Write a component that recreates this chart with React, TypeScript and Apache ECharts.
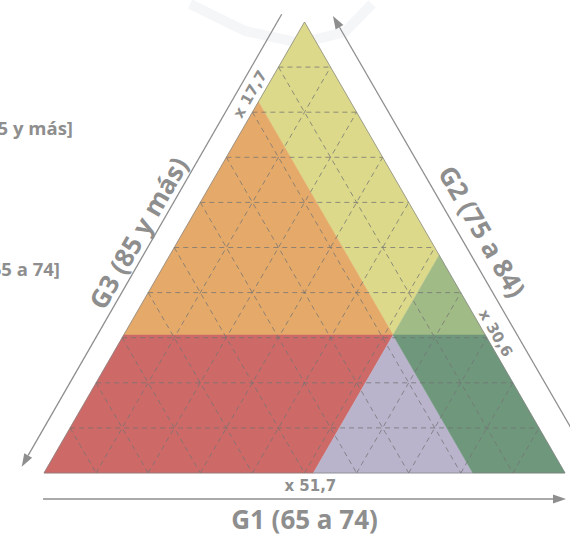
import React, { useEffect, useRef } from "react";
import * as echarts from "echarts";

// ---- data ----
const componentNames = ["G1 (65 a 74)", "G2 (75 a 84)", "G3 (85 y más)"];
const meanValues = [51.7, 30.6, 17.7]; // G1, G2, G3 (%)
const meanLabels = ["x 51,7", "x 30,6", "x 17,7"];
const gridLevels = [10, 20, 30, 40, 50, 60, 70, 80, 90];
const sideLabels = ["[85 y más]", "[65 a 74]"];
const regionNames = ["sup", "izq-sup", "der-sup", "izq-inf", "centro-inf", "der-inf"];
const regionColors = ["#dcd98a", "#e5aa6a", "#a1bb87", "#cd6a67", "#b9b4cc", "#6f977c"];

const S3 = Math.sqrt(3) / 2;
type Tern = number[];
const toXY = (t: Tern) => [t[0] + t[1] / 2, t[1] * S3];

const [m1, m2, m3] = meanValues;
const M: Tern = [m1, m2, m3];
const T: Tern = [0, 100, 0];
const BL: Tern = [0, 0, 100];
const BR: Tern = [100, 0, 0];
const L2: Tern = [0, m2, 100 - m2];
const R2: Tern = [100 - m2, m2, 0];
const P3L: Tern = [0, 100 - m3, m3];
const P3B: Tern = [100 - m3, 0, m3];
const P1R: Tern = [m1, 100 - m1, 0];
const P1B: Tern = [m1, 0, 100 - m1];

const regionPolys: Tern[][] = [
  [M, P3L, T, P1R],
  [M, L2, P3L],
  [M, P1R, R2],
  [M, L2, BL, P1B],
  [M, P1B, P3B],
  [M, P3B, BR, R2],
];

const gridSegments: Tern[][] = [];
gridLevels.forEach((v) => {
  gridSegments.push([[0, v, 100 - v], [100 - v, v, 0]]);
  gridSegments.push([[v, 0, 100 - v], [v, 100 - v, 0]]);
  gridSegments.push([[0, 100 - v, v], [100 - v, 0, v]]);
});

const GRAY = "#8e8e8e";
const FONT = "'Open Sans', 'DejaVu Sans', sans-serif";
const FONT2 = "'DejaVu Sans', sans-serif";

export default function App() {
  const ref = useRef<HTMLDivElement>(null);
  useEffect(() => {
    if (!ref.current) return;
    const chart = echarts.init(ref.current, null, { renderer: "svg" });

    const add = (a: number[], b: number[]) => [a[0] + b[0], a[1] + b[1]];

    const option: any = {
      animation: false,
      backgroundColor: "#ffffff",
      grid: { left: 44, right: 5, top: 22, bottom: 67 },
      xAxis: { type: "value", min: 0, max: 100, show: false },
      yAxis: { type: "value", min: 0, max: 100 * S3, show: false },
      graphic: [
        {
          type: "polyline",
          z: 0,
          silent: true,
          shape: { points: [[190, 4], [245, 31], [300, 43], [345, 32], [372, 4]] },
          style: { stroke: "#f5f6f8", lineWidth: 10, fill: "none" },
        },
        {
          type: "text",
          x: 73,
          y: 127,
          style: { text: sideLabels[0], align: "right", verticalAlign: "middle", fill: GRAY, font: `bold 18.5px ${FONT}` },
        },
        {
          type: "text",
          x: 60,
          y: 268,
          style: { text: sideLabels[1], align: "right", verticalAlign: "middle", fill: GRAY, font: `bold 18.5px ${FONT}` },
        },
      ],
      series: [
        {
          type: "custom",
          name: "regiones",
          z: 1,
          silent: true,
          data: regionNames.map(() => [0, 0]),
          renderItem: (params: any, api: any) => {
            const poly = regionPolys[params.dataIndex];
            return {
              type: "polygon",
              shape: { points: poly.map((p) => api.coord(toXY(p))) },
              style: { fill: regionColors[params.dataIndex], stroke: regionColors[params.dataIndex], lineWidth: 0.5 },
            };
          },
        },
        {
          type: "custom",
          name: "rejilla",
          z: 2,
          silent: true,
          data: gridSegments.map(() => [0, 0]),
          renderItem: (params: any, api: any) => {
            const seg = gridSegments[params.dataIndex];
            const a = api.coord(toXY(seg[0]));
            const b = api.coord(toXY(seg[1]));
            return {
              type: "line",
              shape: { x1: a[0], y1: a[1], x2: b[0], y2: b[1] },
              style: { stroke: "rgba(115,115,115,0.75)", lineWidth: 1, lineDash: [5, 4] },
            };
          },
        },
        {
          type: "custom",
          name: "borde",
          z: 3,
          silent: true,
          data: [[0, 0]],
          renderItem: (_params: any, api: any) => ({
            type: "polygon",
            shape: { points: [T, BL, BR].map((p) => api.coord(toXY(p))) },
            style: { fill: "none", stroke: "rgba(130,130,130,0.7)", lineWidth: 1 },
          }),
        },
        {
          type: "custom",
          name: "ejes",
          z: 4,
          silent: true,
          data: componentNames.map(() => [0, 0]),
          renderItem: (params: any, api: any) => {
            const i = params.dataIndex;
            const pT = api.coord(toXY(T));
            const pBL = api.coord(toXY(BL));
            const pBR = api.coord(toXY(BR));
            let start: number[], end: number[], titlePos: number[], labelPos: number[], rot: number;
            if (i === 0) {
              start = add(pBL, [-1, 26]);
              end = add(pBR, [1, 26]);
              titlePos = add([(pBL[0] + pBR[0]) / 2, pBL[1]], [0, 46]);
              labelPos = add(api.coord(toXY(P1B)), [-3, 12.5]);
              rot = 0;
            } else if (i === 1) {
              start = add(pBR, [28.5, -6]);
              end = add(pT, [28.5, -6]);
              titlePos = add([(pBR[0] + pT[0]) / 2, (pBR[1] + pT[1]) / 2], [47.8, -16.3]);
              labelPos = add(api.coord(toXY(R2)), [10.2, -1.8]);
              rot = -Math.PI / 3;
            } else {
              start = add(pT, [-22.8, -7.7]);
              end = add(pBL, [-22.3, -6.3]);
              titlePos = add([(pBL[0] + pT[0]) / 2, (pBL[1] + pT[1]) / 2], [-36.2, -14.8]);
              labelPos = add(api.coord(toXY(P3L)), [-8.3, -7.6]);
              rot = Math.PI / 3;
            }
            const dx = end[0] - start[0];
            const dy = end[1] - start[1];
            const len = Math.sqrt(dx * dx + dy * dy);
            const ux = dx / len;
            const uy = dy / len;
            const base = [end[0] - ux * 13, end[1] - uy * 13];
            const w = 4.5;
            return {
              type: "group",
              children: [
                {
                  type: "line",
                  shape: { x1: start[0], y1: start[1], x2: base[0], y2: base[1] },
                  style: { stroke: GRAY, lineWidth: 1.3 },
                },
                {
                  type: "polygon",
                  shape: {
                    points: [
                      end,
                      [base[0] - uy * w, base[1] + ux * w],
                      [base[0] + uy * w, base[1] - ux * w],
                    ],
                  },
                  style: { fill: GRAY },
                },
                {
                  type: "text",
                  x: titlePos[0],
                  y: titlePos[1],
                  rotation: rot,
                  style: {
                    text: componentNames[i],
                    align: "center",
                    verticalAlign: "middle",
                    fill: GRAY,
                    font: `bold 26px ${FONT}`,
                  },
                },
                {
                  type: "text",
                  x: labelPos[0],
                  y: labelPos[1],
                  rotation: rot,
                  style: {
                    text: meanLabels[i],
                    align: "center",
                    verticalAlign: "middle",
                    fill: GRAY,
                    font: `bold 15px ${FONT2}`,
                  },
                },
              ],
            };
          },
        },
      ],
    };
    chart.setOption(option);
    return () => chart.dispose();
  }, []);
  return (
    <div
      ref={ref}
      style={{ position: "fixed", left: 0, top: 0, width: 570, height: 540, background: "#fff" }}
    />
  );
}
